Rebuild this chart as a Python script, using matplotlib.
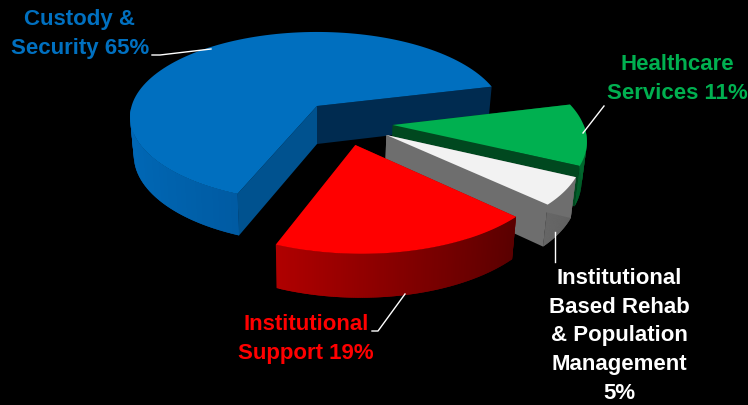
import matplotlib
matplotlib.use('Agg')
import matplotlib.pyplot as plt
import matplotlib.colors as mcolors
import numpy as np

labels = ['Custody &\nSecurity 65%', 'Institutional\nSupport 19%',
          'Institutional\nBased Rehab\n& Population\nManagement\n5%', 'Healthcare\nServices 11%']
values = [65, 19, 5, 11]

# how far each slice is pulled out of the pie, in pie radius units
offsets = [(0, 0), (0.195, -0.44), (0.358, -0.332), (0.397, -0.2207)]
top_colors = ['#006FBF', '#FF0000', '#F2F2F2', '#00B050']
front_cut_colors = ['#00528F', '#990000', '#6E6E6E', '#00481F']
back_cut_colors = ['#002B50', '#660000', '#6E6E6E', '#00481F']
rim_light = ['#0068B6', '#E00000', '#6E6E6E', '#006A30']
rim_dark = ['#003C74', '#440000', '#6E6E6E', '#006A30']

start_angle = 13.8
cx, cy = 317, 107
rx, ry = 185.4, 83.6
persp = 0.129
depth = 38
shrink = 0.98


def project(u, v, bottom=False):
    w = 1 + persp * v
    x = rx * u / w
    y = -ry * v / w
    if bottom:
        return cx + x * shrink, cy + y + depth / w ** 0.7
    return cx + x, cy + y


def draw_slice(ax, a0, a1, off, top, front_cut, back_cut, light, dark):
    th = np.radians(np.linspace(a0, a1, 120))
    u = off[0] + np.cos(th)
    v = off[1] + np.sin(th)
    ax_, ay_ = project(off[0], off[1])
    bx_, by_ = project(off[0], off[1], bottom=True)

    # the two cut faces running back to the slice centre
    tx, ty = project(u, v)
    lx, ly = project(u, v, bottom=True)
    ax.fill([ax_, tx[0], lx[0], bx_], [ay_, ty[0], ly[0], by_], color=back_cut, lw=0, zorder=1)
    ax.fill([ax_, tx[-1], lx[-1], bx_], [ay_, ty[-1], ly[-1], by_], color=front_cut, lw=0, zorder=1)

    # outer rim, only the part facing the viewer, lighter towards the left
    c0 = np.array(mcolors.to_rgb(dark))
    c1 = np.array(mcolors.to_rgb(light))
    for i in range(len(th) - 1):
        if np.sin(th[i]) > 0:
            continue
        t = (1 - np.cos(th[i])) / 2
        col = c0 + (c1 - c0) * t
        j = min(i + 2, len(th) - 1)
        ax.fill([tx[i], tx[j], lx[j], lx[i]], [ty[i], ty[j], ly[j], ly[i]],
                color=col, lw=0, zorder=1)

    ax.fill(np.r_[ax_, tx], np.r_[ay_, ty], color=top, lw=0, zorder=1)


fig = plt.figure(figsize=(7.48, 4.06), dpi=100, facecolor='black')
ax = fig.add_axes([0, 0, 1, 1])
ax.set_xlim(0, 748)
ax.set_ylim(406, 0)
ax.axis('off')

angles = start_angle + np.cumsum([0] + values) * 3.6
# blue goes first, then back to front through green, gray and red
for i in [0, 3, 2, 1]:
    draw_slice(ax, angles[i], angles[i + 1], offsets[i], top_colors[i],
               front_cut_colors[i], back_cut_colors[i], rim_light[i], rim_dark[i])

# leader lines
ax.plot([152, 160, 211], [56, 56, 50], color='white', lw=1, zorder=2)
ax.plot([372, 378, 405], [332, 332, 295], color='white', lw=1, zorder=2)
ax.plot([604, 583], [107, 134], color='white', lw=1, zorder=2)
ax.plot([555, 555], [233, 263], color='white', lw=1, zorder=2)

font = dict(family='Liberation Sans', fontweight='bold', fontsize=16, ha='center', va='center',
            linespacing=1.48, zorder=3)
ax.text(80, 34, labels[0], color='#0070C0', **font)
ax.text(306, 339, labels[1], color='#FF0000', **font)
ax.text(619, 336, labels[2], color='white', **font)
ax.text(677, 79, labels[3], color='#00B050', **font)

fig.savefig('out.png', dpi=100, facecolor='black')
